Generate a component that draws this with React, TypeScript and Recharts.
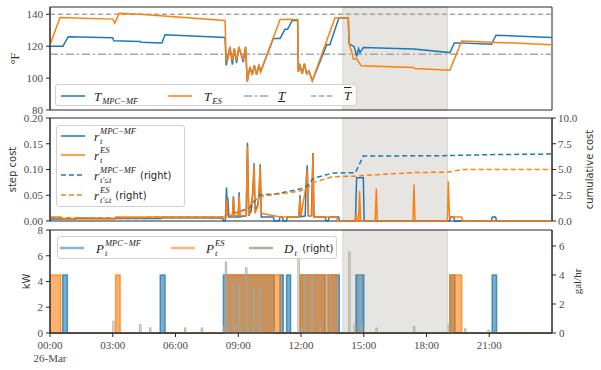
import React from "react";
import { Area, ComposedChart, Line, ReferenceArea, ReferenceLine, XAxis, YAxis } from "recharts";

const BLUE = "#1f77b4";
const ORANGE = "#ff7f0e";
const GREY = "#a9a596";
const SPINE = "#262626";
const TICK = "#4a4a4a";
const SHADE = "#e7e5e1";
const SERIF = "'Liberation Serif', 'DejaVu Serif', serif";
const SANS = "'DejaVu Sans', sans-serif";

// time axis (hours of the day)
const xTicks = [0, 3, 6, 9, 12, 15, 18, 21];
const xTickLabels = ["00:00", "03:00", "06:00", "09:00", "12:00", "15:00", "18:00", "21:00"];
const dateLabel = "26-Mar";
const peakWindow = [14, 19];

// top panel: tank temperature (°F)
const tempTicks = [80, 100, 120, 140];
const tLower = 115;
const tUpper = 140;
const tMpc: [number, number][] = [
  [0, 120], [0.62, 120], [0.87, 126], [3.0, 125.3], [3.05, 123.5], [4.3, 123], [4.35, 122.5], [5.35, 122],
  [5.5, 127.2], [8.37, 125.5], [8.42, 108], [8.6, 119.6], [8.72, 108.5], [8.81, 118.5], [8.92, 109.5],
  [9.03, 119.6], [9.24, 110], [9.35, 119.6], [9.43, 97.7], [9.56, 107], [9.67, 102], [9.77, 108], [9.88, 102],
  [9.99, 108.5], [10.07, 104], [10.68, 124.8], [11.0, 124.8], [11.23, 130.6], [11.36, 130.6], [11.58, 136.2],
  [11.84, 136.2], [11.87, 104], [11.95, 108], [12.06, 102.7], [12.16, 109], [12.27, 102.7], [12.38, 104.5],
  [12.54, 98.3], [13.23, 121], [13.38, 121], [13.81, 137.7], [14.26, 137.7], [14.3, 121.7], [14.55, 119.6],
  [14.66, 113.5], [14.75, 118.5], [14.82, 116], [14.98, 119.2], [17.37, 118.3], [19.12, 116], [19.33, 122.1],
  [19.52, 122.1], [21.11, 121.2], [21.32, 126.9], [24, 125.4],
];
const tEs: [number, number][] = [
  [0, 121], [0.48, 138], [3.0, 137], [3.1, 134.5], [3.3, 140.6], [4.3, 140], [8.37, 136.2], [8.42, 111],
  [8.49, 111], [8.6, 119.6], [8.72, 111], [8.81, 118.5], [8.92, 111.2], [9.03, 119.6], [9.24, 111.2],
  [9.35, 119.6], [9.43, 97.7], [9.56, 107], [9.67, 102], [9.77, 108], [9.88, 102], [9.99, 108.5], [10.07, 104],
  [11.0, 136.8], [11.84, 136.8], [11.87, 104], [11.95, 108], [12.06, 102.7], [12.16, 109], [12.27, 102.7],
  [12.38, 104.5], [12.54, 98.3], [13.62, 137.7], [14.26, 137.7], [14.3, 121.7], [14.47, 114.4], [14.5, 112],
  [14.66, 112.3], [14.87, 107.7], [17.37, 106.7], [17.45, 106], [19.12, 105], [19.68, 123.3], [24, 121],
];

// middle panel: step cost (left) and cumulative cost (right)
const stepTicks = [0, 0.05, 0.1, 0.15, 0.2];
const cumTicks = [0, 2.5, 5, 7.5, 10];
const rMpc: [number, number][] = [
  [0, 0.004], [1.2, 0.004], [1.25, 0.006], [3.0, 0.005], [5.3, 0.005], [5.35, 0.007], [8.25, 0.006], [8.3, 0],
  [8.38, 0], [8.44, 0.065], [8.48, 0.02], [8.5, 0.045], [8.55, 0.008], [8.72, 0.008], [8.77, 0.048],
  [8.82, 0.008], [9.0, 0.008], [9.04, 0.056], [9.08, 0.008], [9.38, 0.01], [9.44, 0.152], [9.5, 0.01],
  [9.62, 0.02], [9.7, 0.06], [9.76, 0.112], [9.8, 0.02], [9.92, 0.03], [10.0, 0.05], [10.05, 0.11],
  [10.1, 0.008], [10.68, 0.008], [10.72, 0], [10.95, 0], [11.0, 0.008], [11.1, 0.008], [11.15, 0], [11.3, 0],
  [11.35, 0.008], [11.9, 0.008], [11.95, 0.05], [12.0, 0.008], [12.2, 0.01], [12.25, 0.08], [12.3, 0.108],
  [12.35, 0.01], [12.5, 0.01], [12.57, 0.132], [12.62, 0.008], [13.15, 0.008], [13.2, 0], [13.3, 0],
  [13.35, 0.008], [13.8, 0.008], [13.85, 0], [14.6, 0], [14.66, 0.084], [14.98, 0.084], [15.02, 0], [19.1, 0],
  [19.15, 0.008], [19.3, 0.008], [19.35, 0], [21.1, 0], [21.15, 0.008], [21.3, 0.008], [21.35, 0], [24, 0],
];
const rEs: [number, number][] = [
  [0, 0.008], [0.5, 0.008], [0.55, 0.004], [3.1, 0.004], [3.15, 0.008], [8.3, 0.008], [8.4, 0.005],
  [8.45, 0.043], [8.5, 0.01], [8.72, 0.01], [8.77, 0.045], [8.82, 0.01], [9.0, 0.01], [9.04, 0.05], [9.08, 0.01],
  [9.38, 0.01], [9.44, 0.145], [9.5, 0.01], [9.7, 0.05], [9.76, 0.108], [9.8, 0.015], [9.95, 0.03],
  [10.05, 0.105], [10.1, 0.015], [11.0, 0.008], [11.9, 0.008], [11.95, 0.045], [12.0, 0.01], [12.25, 0.07],
  [12.3, 0.1], [12.35, 0.01], [12.52, 0.01], [12.57, 0.13], [12.62, 0.008], [13.7, 0.008], [13.75, 0],
  [14.6, 0], [14.63, 0.015], [14.68, 0], [14.75, 0], [14.8, 0.058], [14.85, 0], [15.55, 0], [15.6, 0.063],
  [15.65, 0], [17.35, 0], [17.4, 0.071], [17.45, 0], [19.0, 0], [19.04, 0.077], [19.1, 0.008], [19.68, 0.008],
  [19.72, 0], [24, 0],
];
const cumMpc: [number, number][] = [
  [0, 0.3], [8.3, 0.35], [8.5, 0.6], [9.0, 0.9], [9.4, 1.15], [9.65, 1.45], [9.9, 2.3], [10.1, 2.55],
  [10.7, 2.6], [11.95, 3.1], [12.3, 3.4], [12.55, 4.05], [12.7, 4.2], [13.5, 4.65], [14.6, 4.7], [14.98, 6.3],
  [19, 6.35], [21.2, 6.45], [24, 6.5],
];
const cumEs: [number, number][] = [
  [0, 0.3], [8.3, 0.35], [8.5, 0.55], [9.4, 1.1], [9.8, 2.1], [10.1, 2.4], [11.95, 2.9], [12.3, 3.2],
  [12.6, 3.75], [13.5, 4.3], [14.6, 4.35], [15.6, 4.5], [17.4, 4.7], [19.05, 4.75], [19.7, 5.0], [24, 5.0],
];

// bottom panel: heater power (kW, left) and hot-water draw (gal/hr, right)
const kwTicks = [0, 2, 4, 6, 8];
const galTicks = [0, 2, 4, 6];
const pMpc: [number, number][] = [
  [0, 0], [0.61, 4.5], [0.83, 0], [5.27, 4.5], [5.5, 0], [8.29, 4.5], [10.72, 0], [11.0, 4.5], [11.15, 0],
  [11.31, 4.5], [11.5, 0], [11.95, 4.5], [13.15, 0], [13.3, 4.5], [13.83, 0], [14.63, 4.5], [15.0, 0],
  [19.12, 4.5], [19.36, 0], [21.14, 4.5], [21.35, 0], [24, 0],
];
const pEs: [number, number][] = [
  [0, 4.5], [0.51, 0], [3.14, 4.5], [3.35, 0], [8.44, 4.5], [11.0, 0], [11.95, 4.5], [13.7, 0], [19.12, 4.5],
  [19.68, 0], [24, 0],
];
const draw: [number, number][] = [
  [0, 0], [3.0, 0.82], [3.07, 0], [4.28, 0.59], [4.35, 0], [4.76, 0.36], [4.83, 0], [6.43, 0.36], [6.5, 0],
  [7.23, 0.36], [7.3, 0], [8.3, 0.5], [8.36, 0], [8.38, 4.9], [8.45, 0], [8.5, 0.6], [8.56, 0], [8.74, 3.5],
  [8.81, 0], [8.85, 0.5], [8.9, 0], [9.0, 3.5], [9.07, 0], [9.12, 0.4], [9.17, 0], [9.35, 4.5], [9.42, 0],
  [9.5, 0.4], [9.55, 0], [9.71, 3.1], [9.78, 0], [9.97, 3.1], [10.04, 0], [10.1, 0.3], [10.15, 0], [10.7, 0.3],
  [10.75, 0], [11.85, 5.7], [11.92, 0], [12.0, 0.4], [12.05, 0], [12.18, 4.0], [12.25, 0], [12.5, 4.0],
  [12.57, 0], [12.9, 0.4], [12.95, 0], [13.28, 4.0], [13.35, 0], [14.28, 5.6], [14.35, 0], [14.53, 0.6],
  [14.6, 0], [14.77, 4.0], [14.84, 0], [14.9, 0.6], [14.95, 0], [15.58, 0.35], [15.65, 0], [17.38, 0.45],
  [17.45, 0], [19.04, 0.6], [19.11, 0], [19.82, 0.3], [19.89, 0], [20.93, 0.2], [21.0, 0], [24, 0],
];

const toPts = (arr: [number, number][]) => arr.map(([h, v]) => ({ h, v }));

// both power series share one table (step lookup at every breakpoint)
const stepAt = (arr: [number, number][], t: number) => {
  let v = 0;
  for (const [h, val] of arr) if (h <= t) v = val;
  return v;
};
const powerTable = Array.from(new Set([...pMpc, ...pEs].map((p) => p[0])))
  .sort((a, b) => a - b)
  .map((h) => ({ h, mpc: stepAt(pMpc, h), es: stepAt(pEs, h) }));

const tickStyle = { fontSize: 11, fill: TICK, fontFamily: SERIF };

const axisTitle = (text: string, dx: number, family: string, size: number) => (props: any) => {
  const vb = props.viewBox;
  const cx = vb.x + dx;
  const cy = vb.y + vb.height / 2;
  return (
    <text x={cx} y={cy} transform={`rotate(-90 ${cx} ${cy})`} textAnchor="middle" dominantBaseline="central"
      fontSize={size} fontFamily={family} fill="#333">
      {text}
    </text>
  );
};

const TimeTick = (props: any) => {
  const { x, y, payload } = props;
  const i = xTicks.indexOf(payload.value);
  return (
    <g>
      <text x={x} y={y} dy="0.71em" textAnchor="middle" {...tickStyle}>{xTickLabels[i]}</text>
      {i === 0 && <text x={x} y={y} dy="1.9em" textAnchor="middle" {...tickStyle}>{dateLabel}</text>}
    </g>
  );
};

const Mth = ({ b, sub, sup, over, under }: { b: string; sub?: string; sup?: string; over?: boolean; under?: boolean }) => (
  <span style={{ fontFamily: SERIF, fontStyle: "italic", fontSize: 13, whiteSpace: "nowrap", display: "inline-flex", alignItems: "center", color: "#222" }}>
    <span style={{ textDecoration: over ? "overline" : under ? "underline" : "none" }}>{b}</span>
    {(sub || sup) && (
      <span style={{ display: "inline-flex", flexDirection: "column", fontSize: 8.5, lineHeight: "9.5px", marginLeft: 1 }}>
        <span style={{ visibility: sup ? "visible" : "hidden" }}>{sup || "x"}</span>
        <span>{sub}</span>
      </span>
    )}
  </span>
);

const Right = () => <span style={{ fontFamily: SANS, fontSize: 10, color: "#222", marginLeft: 4 }}>(right)</span>;

type Item = { x: number; y: number; color: string; dash?: string; width?: number; opacity?: number; tx: number; label: React.ReactNode };

const LegendBox = ({ left, top, width, height, items }: { left: number; top: number; width: number; height: number; items: Item[] }) => (
  <div style={{ position: "absolute", left, top, width, height, background: "rgba(255,255,255,0.8)", border: "1px solid #d0d0d0", borderRadius: 3, boxSizing: "border-box" }}>
    {items.map((it, i) => (
      <React.Fragment key={i}>
        <svg style={{ position: "absolute", left: it.x, top: it.y - 3 }} width={24} height={6}>
          <line x1={0} y1={3} x2={24} y2={3} stroke={it.color} strokeWidth={it.width ?? 1.5} strokeDasharray={it.dash} strokeOpacity={it.opacity ?? 1} />
        </svg>
        <div style={{ position: "absolute", left: it.tx, top: it.y, transform: "translateY(-50%)", display: "flex", alignItems: "center" }}>
          {it.label}
        </div>
      </React.Fragment>
    ))}
  </div>
);

const frame = (yAxisId: string) => (
  <ReferenceArea yAxisId={yAxisId} x1={0} x2={24} fill="none" stroke={SPINE} strokeWidth={1} ifOverflow="visible" />
);
const shade = (yAxisId: string) => (
  <ReferenceArea yAxisId={yAxisId} x1={peakWindow[0]} x2={peakWindow[1]} fill={SHADE} fillOpacity={1} stroke="#d8d6d0" strokeWidth={1} />
);

export default function App() {
  return (
    <div style={{ position: "absolute", left: 0, top: 0, width: 601, height: 370, background: "#fff" }}>
      <div style={{ position: "absolute", left: 0, top: 0 }}>
        <ComposedChart width={601} height={120} margin={{ top: 7, right: 49, bottom: 10, left: 0 }}>
          <XAxis type="number" dataKey="h" domain={[0, 24]} hide allowDataOverflow />
          <YAxis yAxisId="l" type="number" domain={[80, 144.6]} ticks={tempTicks} width={50} tick={tickStyle}
            tickSize={4} tickMargin={3} stroke={SPINE} allowDataOverflow label={axisTitle("°F", 15, SERIF, 12)} />
          {shade("l")}
          <ReferenceLine yAxisId="l" y={tLower} stroke={GREY} strokeWidth={1.5} strokeDasharray="8 3 2 3" />
          <ReferenceLine yAxisId="l" y={tUpper} stroke={GREY} strokeWidth={1.5} strokeDasharray="5 3" />
          <Line yAxisId="l" data={toPts(tMpc)} dataKey="v" type="linear" stroke={BLUE} strokeWidth={1.5} dot={false} isAnimationActive={false} />
          <Line yAxisId="l" data={toPts(tEs)} dataKey="v" type="linear" stroke={ORANGE} strokeWidth={1.5} dot={false} isAnimationActive={false} />
          {frame("l")}
        </ComposedChart>
      </div>
      <div style={{ position: "absolute", left: 0, top: 110 }}>
        <ComposedChart width={601} height={120} margin={{ top: 8, right: 0, bottom: 9, left: 0 }}>
          <XAxis type="number" dataKey="h" domain={[0, 24]} hide allowDataOverflow />
          <YAxis yAxisId="l" type="number" domain={[0, 0.2]} ticks={stepTicks} width={50} tick={tickStyle}
            tickFormatter={(v: number) => v.toFixed(2)} tickSize={4} tickMargin={3} stroke={SPINE}
            label={axisTitle("step cost", 12, SANS, 10)} />
          <YAxis yAxisId="r" orientation="right" type="number" domain={[0, 10]} ticks={cumTicks} width={49} tick={tickStyle}
            tickFormatter={(v: number) => v.toFixed(1)} tickSize={4} tickMargin={2} stroke={SPINE}
            label={axisTitle("cumulative cost", 37, SANS, 10)} />
          {shade("l")}
          <Line yAxisId="l" data={toPts(rMpc)} dataKey="v" type="linear" stroke={BLUE} strokeWidth={1.5} dot={false} isAnimationActive={false} />
          <Line yAxisId="l" data={toPts(rEs)} dataKey="v" type="linear" stroke={ORANGE} strokeWidth={1.5} dot={false} isAnimationActive={false} />
          <Line yAxisId="r" data={toPts(cumMpc)} dataKey="v" type="linear" stroke={BLUE} strokeWidth={1.5} strokeDasharray="5 3" dot={false} isAnimationActive={false} />
          <Line yAxisId="r" data={toPts(cumEs)} dataKey="v" type="linear" stroke={ORANGE} strokeWidth={1.5} strokeDasharray="5 3" dot={false} isAnimationActive={false} />
          {frame("l")}
        </ComposedChart>
      </div>
      <div style={{ position: "absolute", left: 0, top: 222 }}>
        <ComposedChart width={601} height={148} data={powerTable} margin={{ top: 8, right: 0, bottom: 0, left: 0 }}>
          <XAxis type="number" dataKey="h" domain={[0, 24]} ticks={xTicks} height={37} tick={<TimeTick />}
            tickSize={4} tickMargin={4} stroke={SPINE} allowDataOverflow interval={0} />
          <YAxis yAxisId="l" type="number" domain={[0, 8]} ticks={kwTicks} width={50} tick={tickStyle}
            tickSize={4} tickMargin={3} stroke={SPINE} label={axisTitle("kW", 26, SANS, 10)} />
          <YAxis yAxisId="r" orientation="right" type="number" domain={[0, 7.1]} ticks={galTicks} width={49} tick={tickStyle}
            tickSize={4} tickMargin={3} stroke={SPINE} allowDataOverflow label={axisTitle("gal/hr", 25, SERIF, 11)} />
          {shade("l")}
          <Area yAxisId="l" dataKey="mpc" type="stepAfter" fill={BLUE} fillOpacity={0.6} stroke={BLUE} strokeOpacity={0.75}
            strokeWidth={1.5} dot={false} activeDot={false} isAnimationActive={false} />
          <Area yAxisId="l" dataKey="es" type="stepAfter" fill={ORANGE} fillOpacity={0.6} stroke={ORANGE} strokeOpacity={0.75}
            strokeWidth={1.5} dot={false} activeDot={false} isAnimationActive={false} />
          <Line yAxisId="r" data={toPts(draw)} dataKey="v" type="stepAfter" stroke={GREY} strokeOpacity={0.9} strokeWidth={1}
            dot={false} activeDot={false} isAnimationActive={false} />
          {frame("l")}
        </ComposedChart>
      </div>

      <LegendBox left={55} top={84} width={302} height={22} items={[
        { x: 5, y: 11, color: BLUE, tx: 38, label: <Mth b="T" sub="MPC−MF" /> },
        { x: 112, y: 11, color: ORANGE, tx: 148, label: <Mth b="T" sub="ES" /> },
        { x: 188, y: 11, color: GREY, dash: "8 3 2 3", tx: 222, label: <Mth b="T" under /> },
        { x: 255, y: 11, color: GREY, dash: "5 3", tx: 288, label: <Mth b="T" over /> },
      ]} />
      <LegendBox left={56} top={125} width={129} height={82} items={[
        { x: 4, y: 10, color: BLUE, tx: 37, label: <Mth b="r" sup="MPC−MF" sub="t" /> },
        { x: 4, y: 29, color: ORANGE, tx: 37, label: <Mth b="r" sup="ES" sub="t" /> },
        { x: 4, y: 49, color: BLUE, dash: "5 3", tx: 37, label: <><Mth b="r" sup="MPC−MF" sub="t′≤t" /><Right /></> },
        { x: 4, y: 69, color: ORANGE, dash: "5 3", tx: 37, label: <><Mth b="r" sup="ES" sub="t′≤t" /><Right /></> },
      ]} />
      <LegendBox left={57} top={236} width={280} height={23} items={[
        { x: 2, y: 11, color: BLUE, width: 2.5, opacity: 0.55, tx: 38, label: <Mth b="P" sup="MPC−MF" sub="t" /> },
        { x: 113, y: 11, color: ORANGE, width: 2.5, opacity: 0.55, tx: 148, label: <Mth b="P" sup="ES" sub="t" /> },
        { x: 191, y: 11, color: GREY, width: 2.5, opacity: 0.9, tx: 226, label: <><Mth b="D" sub="t" /><Right /></> },
      ]} />
    </div>
  );
}
